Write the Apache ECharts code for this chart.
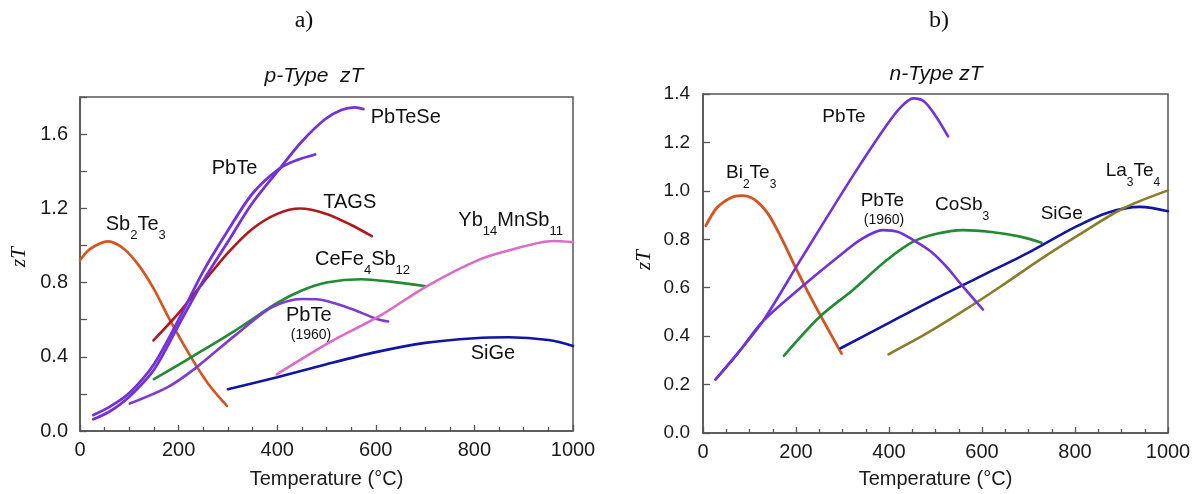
<!DOCTYPE html>
<html><head><meta charset="utf-8">
<script src="https://cdn.jsdelivr.net/npm/echarts@6.0.0/dist/echarts.min.js"></script>
<style>html,body{margin:0;padding:0;background:#fff}#c{width:1199px;height:494px}</style>
</head><body><div id="c"></div>
<script>
// ---- data: [Temperature (°C), zT] ----
// panel a) p-type
const pSb2Te3 = [[0,0.92],[20,0.98],[57,1.022],[90,0.98],[120,0.89],[150,0.765],[183,0.595],[227,0.39],[260,0.255],[298,0.135]];
const pPbTe = [[27,0.086],[60,0.13],[100,0.205],[150,0.36],[200,0.6],[250,0.86],[300,1.08],[350,1.28],[405,1.415],[440,1.46],[477,1.49]];
const pPbTeSe = [[27,0.063],[60,0.105],[100,0.185],[150,0.33],[200,0.57],[250,0.81],[300,1.02],[350,1.23],[406,1.417],[450,1.56],[497,1.68],[530,1.73],[558,1.744],[575,1.735]];
const pTAGS = [[149,0.488],[200,0.635],[250,0.8],[300,0.96],[350,1.09],[400,1.17],[446,1.199],[500,1.17],[550,1.11],[592,1.05]];
const pCeFe4Sb12 = [[150,0.279],[227,0.40],[314,0.54],[400,0.69],[450,0.757],[500,0.80],[570,0.818],[630,0.805],[702,0.78]];
const pPbTe1960 = [[101,0.148],[179,0.238],[233,0.336],[314,0.514],[389,0.667],[450,0.711],[480,0.71],[541,0.667],[602,0.604],[625,0.59]];
const pYb14MnSb11 = [[399,0.305],[507,0.479],[609,0.622],[703,0.78],[811,0.925],[879,0.98],[960,1.024],[1000,1.018]];
const pSiGe = [[300,0.225],[400,0.29],[500,0.36],[600,0.425],[700,0.475],[800,0.50],[870,0.505],[950,0.49],[1000,0.458]];
// panel b) n-type
const nBi2Te3 = [[6,0.856],[30,0.93],[60,0.972],[83,0.98],[110,0.965],[140,0.905],[170,0.8],[200,0.68],[240,0.53],[298,0.328]];
const nPbTe = [[27,0.221],[75,0.33],[129,0.462],[212,0.722],[323,1.064],[394,1.269],[425,1.345],[452,1.382],[475,1.37],[500,1.31],[527,1.225]];
const nPbTe1960 = [[27,0.221],[75,0.33],[129,0.462],[210,0.6],[287,0.722],[340,0.8],[387,0.838],[420,0.83],[452,0.797],[490,0.75],[523,0.688],[556,0.612],[602,0.51]];
const nCoSb3 = [[174,0.319],[251,0.48],[323,0.592],[394,0.712],[452,0.79],[500,0.822],[559,0.838],[620,0.83],[680,0.812],[728,0.786]];
const nSiGe = [[296,0.35],[400,0.455],[500,0.555],[600,0.65],[700,0.745],[800,0.85],[870,0.91],[940,0.934],[1000,0.916]];
const nLa3Te4 = [[399,0.325],[480,0.41],[559,0.503],[640,0.605],[724,0.715],[810,0.82],[903,0.927],[1000,1.002]];
// axes
const xRange = [0, 1000];
const yRangeA = [0, 1.8];
const yRangeB = [0, 1.4];

const C = {orange:'#d4531f', tags:'#b0181c', purple:'#7331d9', purple2:'#7d3ccf', green:'#218a32', pink:'#dc6ac8', blue:'#1016a3', olive:'#8b7c2b'};
const FONT = 'Liberation Sans, Arial, sans-serif';
const SERIF = 'Liberation Serif, Times New Roman, serif';

function line(data, color, g, w) {
  return {type:'line', xAxisIndex:g, yAxisIndex:g, data:data, smooth:0.3, symbol:'none',
    lineStyle:{color:color, width:w||2.6, cap:'round'}, z:3, silent:true, animation:false};
}
function xAx(g, nameGap) {
  return {gridIndex:g, type:'value', min:xRange[0], max:xRange[1], interval:200,
    axisLine:{lineStyle:{color:'#555', width:1.5}},
    axisTick:{inside:true, length:6, lineStyle:{color:'#555', width:1.3}},
    minorTick:{show:true, splitNumber:4, length:4, lineStyle:{color:'#555', width:1.3}},
    splitLine:{show:false}, minorSplitLine:{show:false},
    axisLabel:{fontSize:20, color:'#1a1a1a', margin:9, fontFamily:FONT, formatter:v => String(v)},
    name:'Temperature (°C)', nameLocation:'middle', nameGap:nameGap,
    nameTextStyle:{fontSize:20, color:'#1a1a1a', fontFamily:FONT}};
}
const option = {
  animation:false,
  grid:[
    {left:80, top:97, right:626, bottom:61, show:true, borderColor:'#555', borderWidth:1.5},
    {left:703, top:94, right:31, bottom:58, show:true, borderColor:'#555', borderWidth:1.5}
  ],
  xAxis:[xAx(0,38), xAx(1,36)],
  yAxis:[
    {gridIndex:0, type:'value', min:yRangeA[0], max:yRangeA[1], interval:0.2,
      axisLine:{show:true, lineStyle:{color:'#555', width:1.5}},
      axisTick:{show:true, inside:true, length:7, lineStyle:{color:'#555', width:1.3}},
      splitLine:{show:false},
      axisLabel:{fontSize:20, color:'#1a1a1a', margin:12, fontFamily:FONT,
        formatter:v => (Math.round(v*10) % 4 === 0 && v < 1.7) ? v.toFixed(1) : ''}},
    {gridIndex:1, type:'value', min:yRangeB[0], max:yRangeB[1], interval:0.2,
      axisLine:{show:true, lineStyle:{color:'#555', width:1.5}},
      axisTick:{show:true, inside:true, length:7, lineStyle:{color:'#555', width:1.3}},
      splitLine:{show:false},
      axisLabel:{fontSize:19, color:'#1a1a1a', margin:13, fontFamily:FONT, formatter:v => v.toFixed(1)}}
  ],
  series:[
    line(pSb2Te3, C.orange, 0), line(pTAGS, C.tags, 0), line(pCeFe4Sb12, C.green, 0),
    line(pPbTe1960, C.purple2, 0), line(pYb14MnSb11, C.pink, 0), line(pSiGe, C.blue, 0),
    line(pPbTe, C.purple, 0, 2.8), line(pPbTeSe, C.purple, 0, 2.8),
    line(nBi2Te3, C.orange, 1, 2.8), line(nCoSb3, C.green, 1), line(nSiGe, C.blue, 1),
    line(nLa3Te4, C.olive, 1), line(nPbTe1960, C.purple, 1), line(nPbTe, C.purple, 1)
  ]
};

function richLabel(x, y, text, size) {
  return {type:'text', x:x, y:y, z:10, silent:true, style:{text:text, fill:'#111', align:'left', verticalAlign:'middle',
    rich:{m:{fontSize:size, fontFamily:FONT, fill:'#111', lineHeight:36, verticalAlign:'middle'},
          s:{fontSize:Math.round(size*0.65), fontFamily:FONT, fill:'#111', lineHeight:12, verticalAlign:'bottom'}}}};
}
function plain(x, y, text, font, align, rot) {
  return {type:'text', x:x, y:y, rotation:rot||0, z:10, silent:true,
    style:{text:text, fill:'#111', font:font, align:align||'center', verticalAlign:'middle'}};
}
option.graphic = [
  plain(304, 21, 'a)', '24px ' + SERIF), plain(939, 21, 'b)', '24px ' + SERIF),
  plain(314, 76, 'p-Type  zT', 'italic 21px ' + FONT), plain(936, 74, 'n-Type zT', 'italic 21px ' + FONT),
  plain(19, 257, 'zT', 'italic 21px ' + SERIF, 'center', Math.PI/2),
  plain(644, 260, 'zT', 'italic 21px ' + SERIF, 'center', Math.PI/2),
  richLabel(105.7, 224, '{m|Sb}{s|2}{m|Te}{s|3}', 20),
  richLabel(211.7, 168, '{m|PbTe}', 20),
  richLabel(370.7, 117, '{m|PbTeSe}', 20),
  richLabel(323.3, 202, '{m|TAGS}', 20),
  richLabel(458.3, 220, '{m|Yb}{s|14}{m|MnSb}{s|11}', 20),
  richLabel(315, 259, '{m|CeFe}{s|4}{m|Sb}{s|12}', 20),
  richLabel(286, 315, '{m|PbTe}', 20),
  plain(311, 335, '(1960)', '14px ' + FONT),
  richLabel(470.7, 353, '{m|SiGe}', 20),
  richLabel(726, 173, '{m|Bi}{s|2}{m|Te}{s|3}', 19),
  richLabel(822.3, 116.5, '{m|PbTe}', 19),
  richLabel(860.7, 200.7, '{m|PbTe}', 19),
  plain(884, 220, '(1960)', '14px ' + FONT),
  richLabel(935, 205, '{m|CoSb}{s|3}', 19),
  richLabel(1040.7, 213.3, '{m|SiGe}', 19),
  richLabel(1105.7, 170.5, '{m|La}{s|3}{m|Te}{s|4}', 19)
];
const chart = echarts.init(document.getElementById('c'), null, {renderer:'canvas'});
chart.setOption(option);
</script></body></html>
